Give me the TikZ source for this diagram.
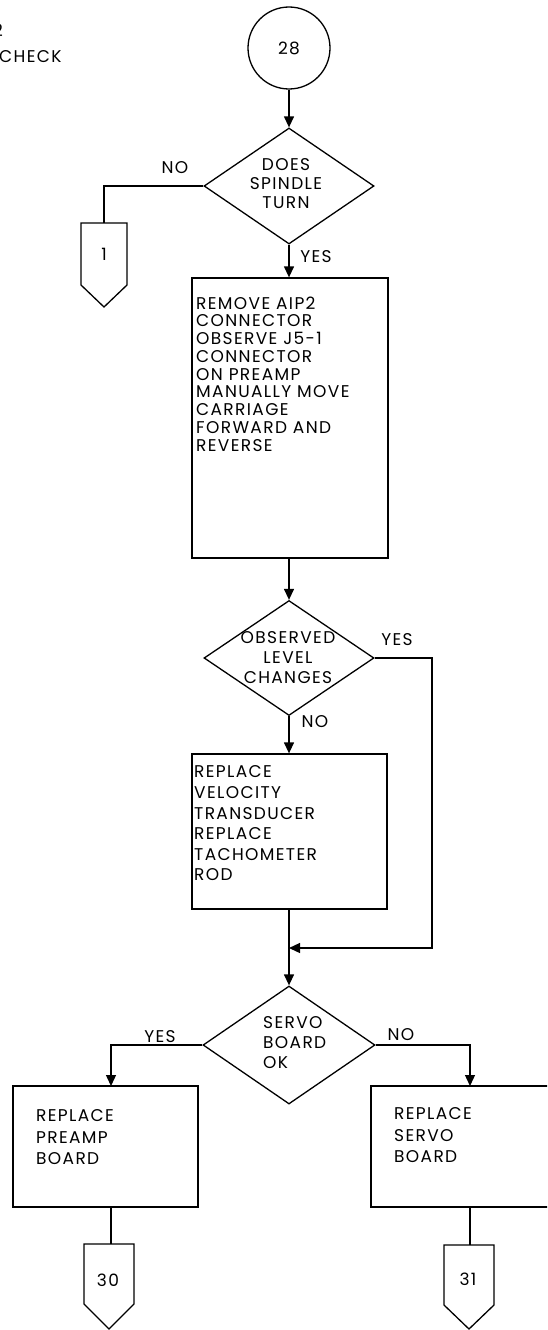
\documentclass[tikz,border=0pt]{standalone}
\usepackage{fontspec}
\newfontfamily\pf{Poppins}[LetterSpace=8]
\usetikzlibrary{shapes.geometric,arrows.meta,calc}
\begin{document}
\begin{tikzpicture}[x=1pt,y=-1pt,
  every node/.style={inner sep=0pt,font=\pf\fontsize{17}{19}\selectfont},
  ln/.style={line width=1.3pt},
  arr/.style={line width=1.3pt,-{Triangle[width=10pt,length=11pt]}},
  boxst/.style={draw,rectangle,line width=1.3pt},
  dia/.style={draw,diamond,line width=1.3pt},
  pent/.style={line width=1.3pt,line join=miter},
  btxt/.style={align=left,anchor=west},
  ctxt/.style={align=center}]
\clip (0,0) rectangle (547,1330);
% top-left fragments
\node[anchor=east] (frag) at (3,30) {2};
\node[anchor=west] (chk) at (-1,57) {CHECK};
% start circle
\node[draw,circle,line width=1.3pt,minimum size=82pt] (c28) at (289,48) {28};
% decision 1
\node[dia,minimum width=170pt,minimum height=116pt] (d1) at (289,186) {};
\node[ctxt,font=\pf\fontsize{17}{19}\selectfont] (d1t) at (286,184) {DOES\\SPINDLE\\TURN};
\node (d1no) at (175,168) {NO};
\node (d1yes) at (316,257) {YES};
% off-page 1
\draw[pent] (81,223) -- (127,223) -- (127,285) -- (104,307) -- (81,285) -- cycle;
\coordinate (p1top) at (104,223);
\node (p1) at (104,254) {1};
% box 1
\node[boxst,minimum width=196pt,minimum height=280pt] (b1) at (290,418) {};
\node[btxt,font=\pf\fontsize{17}{17.75}\selectfont] (b1t) at (196,374)
  {REMOVE AIP2\\CONNECTOR\\OBSERVE J5-1\\CONNECTOR\\ON PREAMP\\MANUALLY MOVE\\CARRIAGE\\FORWARD AND\\REVERSE};
% decision 2
\node[dia,minimum width=170pt,minimum height=115pt] (d2) at (289,658) {};
\node[ctxt,font=\pf\fontsize{17}{20}\selectfont] (d2t) at (288,658) {OBSERVED\\LEVEL\\CHANGES};
\node (d2yes) at (397,640) {YES};
\node (d2no) at (315,722) {NO};
% box 2
\node[boxst,minimum width=195pt,minimum height=155pt] (b2) at (289.5,831.5) {};
\node[btxt,font=\pf\fontsize{17}{20.6}\selectfont] (b2t) at (194,823.5)
  {REPLACE\\VELOCITY\\TRANSDUCER\\REPLACE\\TACHOMETER\\ROD};
\coordinate (jn) at (289,948);
\coordinate (jr) at (432,948);
% decision 3
\node[dia,minimum width=172pt,minimum height=118pt] (d3) at (289,1045) {};
\node[btxt,font=\pf\fontsize{17}{20}\selectfont] (d3t) at (263,1043) {SERVO\\BOARD\\OK};
\node (d3yes) at (160,1037) {YES};
\node (d3no) at (401,1035) {NO};
% boxes 3 and 4
\node[boxst,minimum width=185pt,minimum height=121pt] (b3) at (105.5,1146.5) {};
\node[btxt,font=\pf\fontsize{17}{21.5}\selectfont] (b3t) at (36,1137.5) {REPLACE\\PREAMP\\BOARD};
\node[boxst,minimum width=189pt,minimum height=121pt] (b4) at (465.5,1146.5) {};
\node[btxt,font=\pf\fontsize{17}{21.5}\selectfont] (b4t) at (394,1135.5) {REPLACE\\SERVO\\BOARD};
\coordinate (b3in) at (111,1086);
\coordinate (b4in) at (470,1086);
% off-page 30 and 31
\draw[pent] (84,1244) -- (134,1244) -- (134,1304) -- (109,1329) -- (84,1304) -- cycle;
\coordinate (p30top) at (111,1244);
\node (p30) at (108,1280) {30};
\draw[pent] (444,1245) -- (494,1245) -- (494,1305) -- (469,1329) -- (444,1305) -- cycle;
\coordinate (p31top) at (470,1245);
\node (p31) at (468,1279) {31};
% connectors
\draw[arr] (c28.south) -- (d1.north);
\draw[arr] (d1.south) -- (d1.south |- b1.north);
\draw[ln] (d1.west) -| (p1top);
\draw[arr] (d1.south |- b1.south) -- (d2.north);
\draw[arr] (d2.south) -- (d2.south |- b2.north);
\draw[arr] (d2.east) -| (jr) -- (jn);
\draw[arr] (d2.south |- b2.south) -- (d3.north);
\draw[arr] (d3.west) -| (b3in);
\draw[arr] (d3.east) -| (b4in);
\draw[ln] (p30top |- b3.south) -- (p30top);
\draw[ln] (p31top |- b4.south) -- (p31top);
\end{tikzpicture}
\end{document}
